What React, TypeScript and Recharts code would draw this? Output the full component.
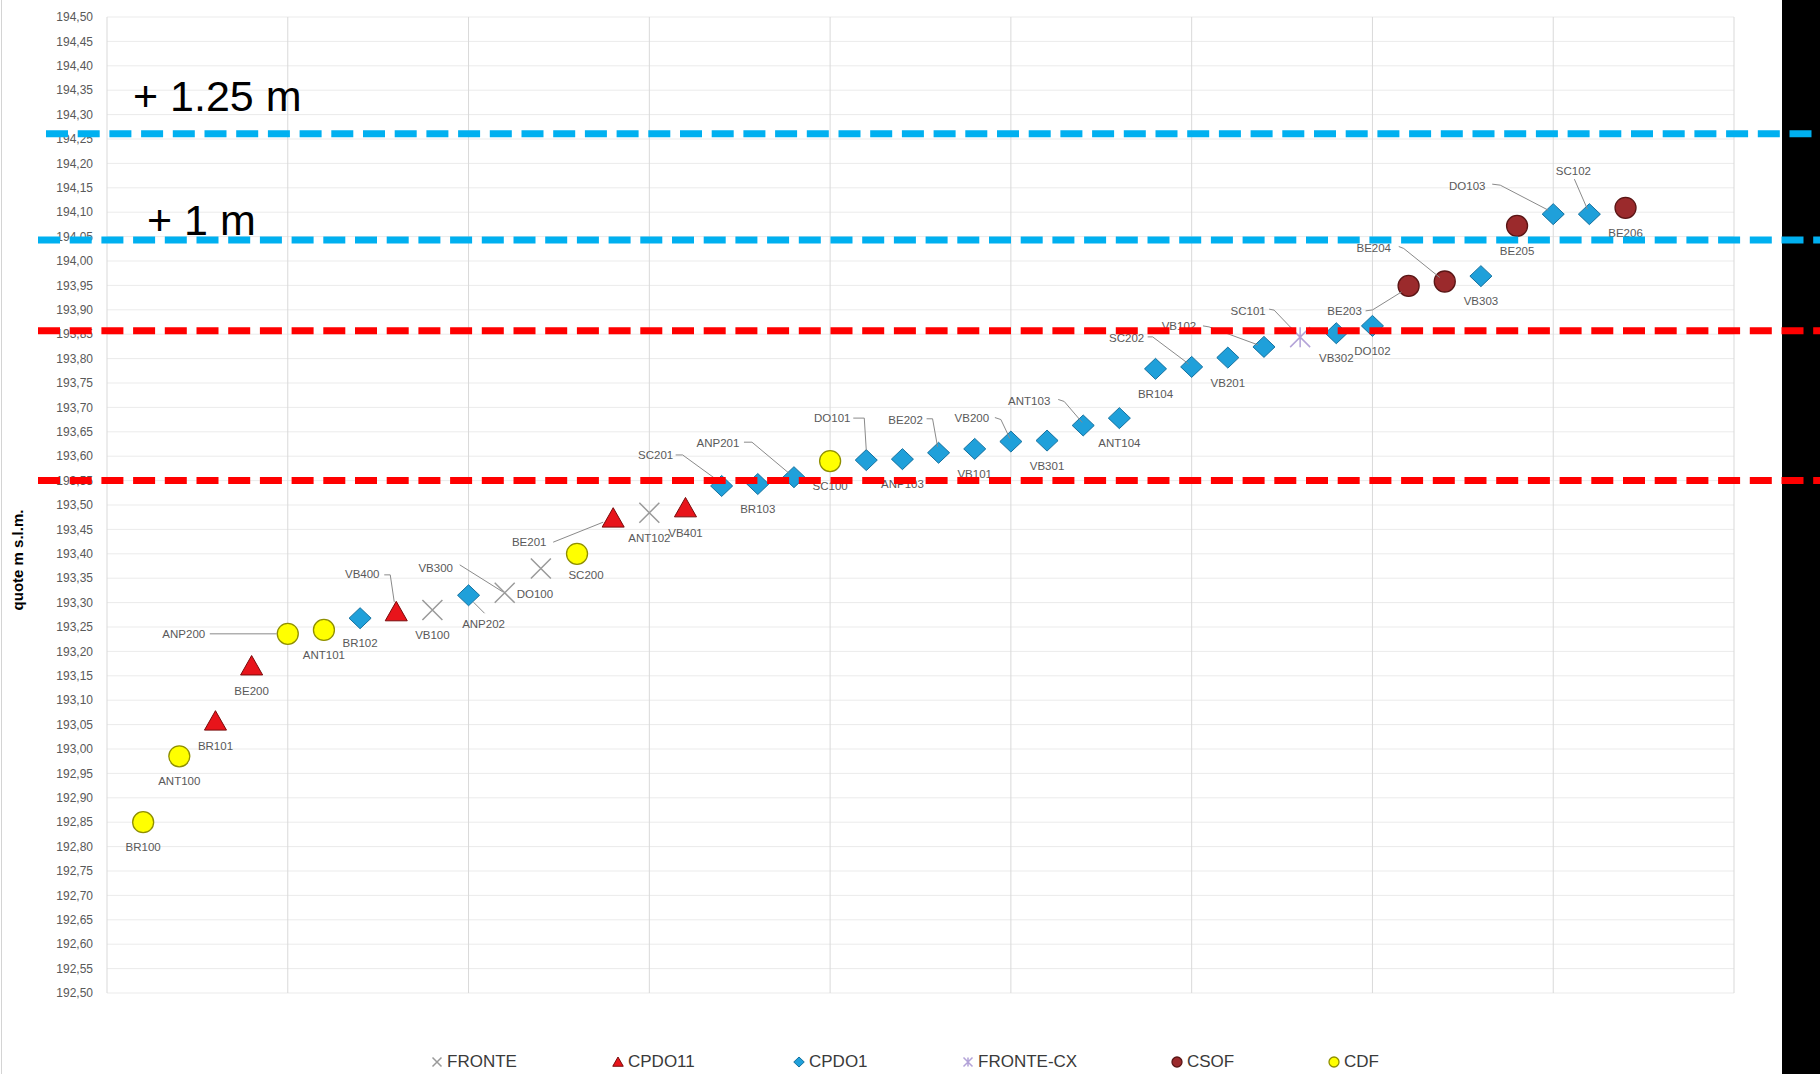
import React from 'react';
import { ScatterChart, Scatter, XAxis, YAxis, CartesianGrid, ReferenceLine } from 'recharts';

// station order along the x axis (position = index + 1)
const stations = [
  'BR100', 'ANT100', 'BR101', 'BE200', 'ANP200', 'ANT101', 'BR102', 'VB400', 'VB100', 'ANP202',
  'VB300', 'DO100', 'SC200', 'BE201', 'ANT102', 'VB401', 'SC201', 'BR103', 'ANP201', 'SC100',
  'DO101', 'ANP103', 'BE202', 'VB101', 'VB200', 'VB301', 'ANT103', 'ANT104', 'BR104', 'SC202',
  'VB201', 'VB102', 'SC101', 'VB302', 'DO102', 'BE203', 'BE204', 'VB303', 'BE205', 'DO103',
  'SC102', 'BE206',
];

// quote m s.l.m.
const elevations = [
  192.85, 192.985, 193.057, 193.17, 193.236, 193.244, 193.268, 193.281, 193.285, 193.315,
  193.32, 193.37, 193.4, 193.473, 193.484, 193.494, 193.539, 193.543, 193.557, 193.59,
  193.592, 193.594, 193.607, 193.615, 193.63, 193.632, 193.663, 193.678, 193.779, 193.783,
  193.802, 193.824, 193.844, 193.852, 193.867, 193.949, 193.958, 193.969, 194.072, 194.096,
  194.096, 194.109,
];

const groups = [
  'CDF', 'CDF', 'CPDO11', 'CPDO11', 'CDF', 'CDF', 'CPDO1', 'CPDO11', 'FRONTE', 'CPDO1',
  'FRONTE', 'FRONTE', 'CDF', 'CPDO11', 'FRONTE', 'CPDO11', 'CPDO1', 'CPDO1', 'CPDO1', 'CDF',
  'CPDO1', 'CPDO1', 'CPDO1', 'CPDO1', 'CPDO1', 'CPDO1', 'CPDO1', 'CPDO1', 'CPDO1', 'CPDO1',
  'CPDO1', 'CPDO1', 'FRONTE-CX', 'CPDO1', 'CPDO1', 'CSOF', 'CSOF', 'CPDO1', 'CSOF', 'CPDO1',
  'CPDO1', 'CSOF',
];

const seriesNames = ['FRONTE', 'CPDO11', 'CPDO1', 'FRONTE-CX', 'CSOF', 'CDF'];

// dashed reference levels drawn over the chart
const thresholdLevels = [194.261, 194.043, 193.857, 193.55];
const thresholdNotes = ['+ 1.25 m', '+ 1 m', '', ''];

const yTicks = Array.from({ length: 41 }, (_, i) => Math.round((192.5 + i * 0.05) * 100) / 100);
const xTicks = [0, 5, 10, 15, 20, 25, 30, 35, 40, 45];

const points = stations.map((name, i) => ({ x: i + 1, y: elevations[i], name, group: groups[i] }));

// data-label placement (offset of text centre from marker, optional leader line)
type Lay = { dx: number; dy: number; leader?: number[][] };
const labelLayout: Record<string, Lay> = {
  ANP200: { dx: -104, dy: 0, leader: [[-78, 0], [-11, 0]] },
  VB400: { dx: -34, dy: -38, leader: [[-12, -37], [-6, -37], [-2, -10]] },
  ANP202: { dx: 15, dy: 29, leader: [[5, 7], [16, 18]] },
  VB300: { dx: -69, dy: -25, leader: [[-45, -28], [-2, -1]] },
  DO100: { dx: -6, dy: 26 },
  SC200: { dx: 9, dy: 21 },
  BE201: { dx: -84, dy: 24, leader: [[-60, 24], [-10, 4]] },
  SC201: { dx: -66, dy: -31, leader: [[-46, -31], [-39, -31], [-6, -7]] },
  ANP201: { dx: -76, dy: -34, leader: [[-50, -35], [-42, -35], [-5, -4]] },
  DO101: { dx: -34, dy: -42, leader: [[-13, -42], [-2, -42], [0, -10]] },
  BE202: { dx: -33, dy: -33, leader: [[-12, -34], [-6, -34], [-1, -6]] },
  VB200: { dx: -39, dy: -24, leader: [[-16, -24], [-10, -22], [-1, -3]] },
  ANT103: { dx: -54, dy: -24, leader: [[-25, -26], [-19, -24], [-1, -3]] },
  SC202: { dx: -65, dy: -29, leader: [[-44, -30], [-39, -30], [-3, -3]] },
  VB102: { dx: -85, dy: -21, leader: [[-61, -21], [-55, -20], [-6, -2]] },
  SC101: { dx: -52, dy: -26, leader: [[-31, -28], [-26, -27], [-4, -4]] },
  BE203: { dx: -64, dy: 25, leader: [[-43, 25], [-36, 24], [-7, 6]] },
  BE204: { dx: -71, dy: -33, leader: [[-46, -35], [-41, -33], [-5, -4]] },
  DO103: { dx: -86, dy: -28, leader: [[-61, -30], [-53, -29], [-5, -4]] },
  SC102: { dx: -16, dy: -43, leader: [[-15, -35], [-2, -5]] },
};

const colors: Record<string, { fill: string; stroke: string }> = {
  FRONTE: { fill: 'none', stroke: '#9a9a9a' },
  CPDO11: { fill: '#e8141b', stroke: '#7a0a0a' },
  CPDO1: { fill: '#1fa0da', stroke: '#15719f' },
  'FRONTE-CX': { fill: 'none', stroke: '#b3a3d8' },
  CSOF: { fill: '#9b2a2c', stroke: '#5a1515' },
  CDF: { fill: '#ffff00', stroke: '#8f8f00' },
};

const drawMarker = (kind: string, cx: number, cy: number, s: number) => {
  const c = colors[kind];
  switch (kind) {
    case 'FRONTE':
      return (
        <path d={`M${cx - s},${cy - s}L${cx + s},${cy + s}M${cx - s},${cy + s}L${cx + s},${cy - s}`}
          stroke={c.stroke} strokeWidth={1.5} fill="none" />
      );
    case 'FRONTE-CX':
      return (
        <path d={`M${cx - s},${cy - s}L${cx + s},${cy + s}M${cx - s},${cy + s}L${cx + s},${cy - s}M${cx},${cy - s}L${cx},${cy + s}`}
          stroke={c.stroke} strokeWidth={1.5} fill="none" />
      );
    case 'CPDO11':
      return (
        <path d={`M${cx},${cy - s}L${cx + s * 1.05},${cy + s * 0.85}L${cx - s * 1.05},${cy + s * 0.85}Z`}
          fill={c.fill} stroke={c.stroke} strokeWidth={1} />
      );
    case 'CPDO1':
      return (
        <path d={`M${cx},${cy - s}L${cx + s * 1.05},${cy}L${cx},${cy + s}L${cx - s * 1.05},${cy}Z`}
          fill={c.fill} stroke={c.stroke} strokeWidth={1} />
      );
    default:
      return <circle cx={cx} cy={cy} r={s} fill={c.fill} stroke={c.stroke} strokeWidth={1.3} />;
  }
};

const renderLabel = (props: any) => {
  const { cx, cy, payload } = props;
  const lay = labelLayout[payload.name] ?? { dx: 0, dy: 25 };
  return (
    <g>
      {lay.leader && (
        <polyline
          points={lay.leader.map(([a, b]) => `${cx + a},${cy + b}`).join(' ')}
          fill="none" stroke="#8a8a8a" strokeWidth={1}
        />
      )}
      <text x={cx + lay.dx} y={cy + lay.dy} textAnchor="middle" dominantBaseline="central"
        fontSize={11.5} fill="#595959">
        {payload.name}
      </text>
    </g>
  );
};

const renderThreshold = (i: number) => (props: any) => {
  const y = props.y1;
  const blue = i < 2;
  return (
    <g>
      <line x1={blue && i === 0 ? 46 : 38} x2={1820} y1={y} y2={y}
        stroke={blue ? '#00b0f0' : '#ff0000'} strokeWidth={7} strokeDasharray="22 9.7" />
      {thresholdNotes[i] && (
        <text x={i === 0 ? 133 : 147} y={i === 0 ? y - 23 : y - 5} fontSize={43} fill="#000">
          {thresholdNotes[i]}
        </text>
      )}
    </g>
  );
};

const legendLeft = [430, 611, 792, 961, 1170, 1327];

const App: React.FC = () => {
  return (
    <div style={{ position: 'absolute', left: 0, top: 0, width: 1820, height: 1074, background: '#fff', overflow: 'hidden' }}>
      <div style={{ position: 'absolute', left: 1782, top: 0, width: 38, height: 1074, background: '#000' }} />
      <div style={{ position: 'absolute', left: 1, top: 0, width: 1, height: 1074, background: '#d4d4d4' }} />
      <div style={{ position: 'absolute', left: 0, top: 0 }}>
        <ScatterChart width={1820} height={1074} margin={{ top: 17, right: 86, bottom: 81, left: 0 }}
          style={{ fontFamily: '"Liberation Sans", Arial, sans-serif' }}>
          <CartesianGrid horizontal vertical={false} stroke="#ebebeb" />
          <XAxis type="number" dataKey="x" domain={[0, 45]} ticks={xTicks} tick={false}
            axisLine={false} tickLine={false} height={0} />
          <YAxis type="number" dataKey="y" domain={[192.5, 194.5]} ticks={yTicks} interval={0}
            width={107} tickSize={0} tickMargin={14} axisLine={false} tickLine={false}
            tick={{ fill: '#595959', fontSize: 12 }}
            tickFormatter={(v: number) => v.toFixed(2).replace('.', ',')}
            label={() => (
              <text transform="translate(23,560) rotate(-90)" textAnchor="middle" fontSize={15}
                fontWeight="bold" fill="#000">
                quote m s.l.m.
              </text>
            )}
          />
          {xTicks.map((v) => (
            <ReferenceLine key={`v${v}`} x={v} stroke="#d9d9d9" strokeWidth={1} ifOverflow="extendDomain" />
          ))}
          {seriesNames.map((s) => (
            <Scatter key={s} name={s} data={points.filter((p) => p.group === s)}
              isAnimationActive={false}
              shape={(p: any) => drawMarker(s, p.cx, p.cy, s === 'FRONTE' || s === 'FRONTE-CX' ? 10 : 10.5)} />
          ))}
          <Scatter name="labels" data={points} isAnimationActive={false} legendType="none" shape={renderLabel} />
          {thresholdLevels.map((lv, i) => (
            <ReferenceLine key={i} y={lv} zIndex={2500} shape={renderThreshold(i)} />
          ))}
        </ScatterChart>
      </div>
      {seriesNames.map((s, i) => (
        <div key={s} style={{ position: 'absolute', left: legendLeft[i], top: 1052, display: 'flex', alignItems: 'center',
          fontFamily: '"Liberation Sans", Arial, sans-serif', fontSize: 17, color: '#3a3a3a' }}>
          <svg width={14} height={14}>{drawMarker(s, 7, 7, s === 'FRONTE' || s === 'FRONTE-CX' ? 4.5 : 5)}</svg>
          <span style={{ marginLeft: 3 }}>{s}</span>
        </div>
      ))}
    </div>
  );
};

export default App;
